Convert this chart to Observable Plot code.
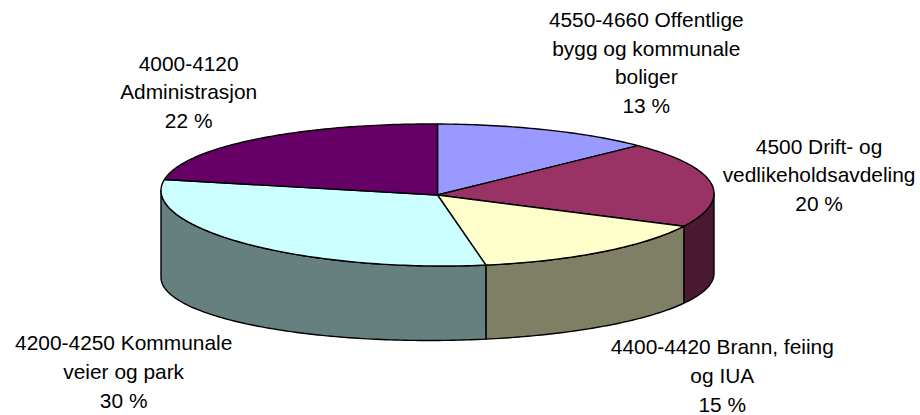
<!DOCTYPE html>
<html>
<head>
<meta charset="utf-8">
<script src="https://cdn.jsdelivr.net/npm/d3@7"></script>
<script src="https://cdn.jsdelivr.net/npm/@observablehq/plot@0.6"></script>
<style>
  html, body { margin: 0; padding: 0; background: #fff; }
  svg { display: block; }
</style>
</head>
<body>
<div id="chart"></div>
<script>
// Data, clockwise from 12 o'clock
const categories = [
  "4550-4660 Offentlige\nbygg og kommunale\nboliger",
  "4500 Drift- og\nvedlikeholdsavdeling",
  "4400-4420 Brann, feiing\nog IUA",
  "4200-4250 Kommunale\nveier og park",
  "4000-4120\nAdministrasjon"
];
const shares = [12.9, 19.6, 14.7, 30.3, 22.5];
const percentLabels = [13, 20, 15, 30, 22];
const topColors = ["#9999ff", "#993366", "#ffffcc", "#ccffff", "#660066"];
const wallColors = ["#4c4c7f", "#4c1933", "#7f7f66", "#667f7f", "#330033"];

// Label anchors in the pie's unit coordinates
const labelX = [0.755, 1.38, 1.03, -1.135, -0.9];
const labelY = [1.891, 0.306, -2.518, -2.463, 1.477];

// Projection of the tilted disc (unit coordinates)
const topPoint = (t) => ({x: Math.sin(t), y: Math.cos(t) - 0.021 * Math.sin(t) + 0.042 * Math.sin(t) ** 2});
const bottomPoint = (t) => ({x: Math.sin(t), y: -1.134 + 0.915 * Math.cos(t) + 0.028 * Math.sin(t)});
const rad = (d) => d * Math.PI / 180;

function arc(fn, a, b) {
  const n = Math.max(2, Math.ceil(Math.abs(b - a)));
  return d3.range(n + 1).map((i) => fn(rad(a + (b - a) * i / n)));
}

const total = d3.sum(shares);
let acc = 0;
const slices = shares.map((v, i) => {
  const a0 = acc / total * 360;
  acc += v;
  return {i, a0, a1: acc / total * 360};
});

const marks = [];
// Walls: only the front half of the rim is visible
for (const s of slices) {
  const a = Math.max(s.a0, 90), b = Math.min(s.a1, 270);
  if (b <= a) continue;
  const pts = [...arc(topPoint, a, b), ...arc(bottomPoint, b, a)];
  marks.push(Plot.line(pts, {x: "x", y: "y", curve: "linear-closed", fill: wallColors[s.i], stroke: "#000", strokeWidth: 1.4}));
}
// Top faces
for (const s of slices) {
  const pts = [{x: 0, y: 0}, ...arc(topPoint, s.a0, s.a1)];
  marks.push(Plot.line(pts, {x: "x", y: "y", curve: "linear-closed", fill: topColors[s.i], stroke: "#000", strokeWidth: 1.4}));
}
// Labels
const labels = categories.map((c, i) => ({text: `${c}\n${percentLabels[i]} %`, x: labelX[i], y: labelY[i]}));
marks.push(Plot.text(labels, {
  x: "x", y: "y", text: "text",
  fontFamily: "'Liberation Sans', Arial, sans-serif",
  fontSize: 20.9, lineHeight: 1.37, fill: "#000", textAnchor: "middle"
}));

const chart = Plot.plot({
  width: 920, height: 415,
  margin: 0,
  style: {background: "#fff"},
  x: {domain: [-1, 1], range: [160.5, 713.5], axis: null},
  y: {domain: [1, -1], range: [123.5, 265.5], axis: null},
  marks
});
document.getElementById("chart").append(chart);
</script>
</body>
</html>
